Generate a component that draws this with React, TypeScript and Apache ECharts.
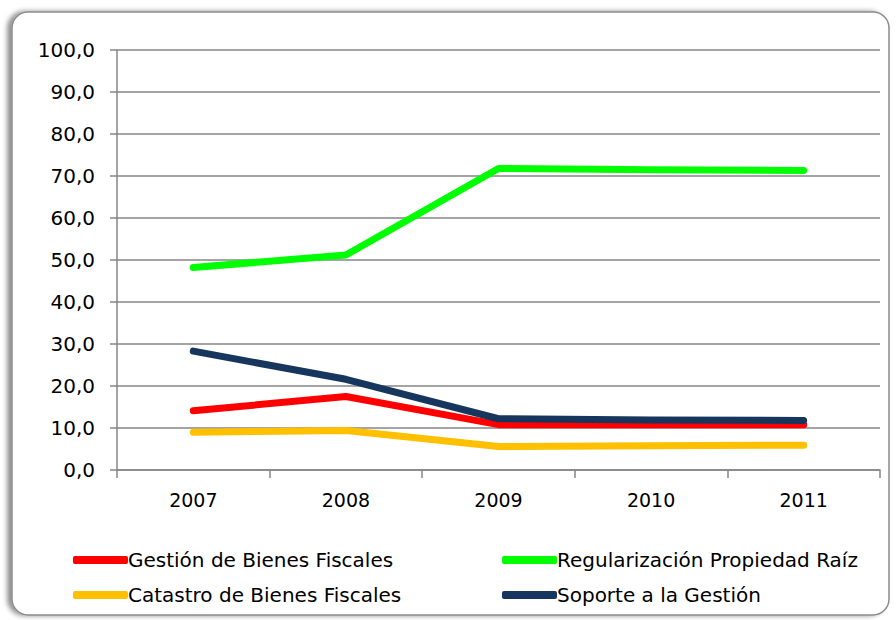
import React, { useEffect, useRef } from "react";
import * as echarts from "echarts";

const years = ["2007", "2008", "2009", "2010", "2011"];
const gestionBienes = [14.1, 17.5, 10.8, 10.8, 10.8];
const regularizacion = [48.2, 51.2, 71.8, 71.5, 71.3];
const catastro = [9.0, 9.4, 5.6, 5.8, 5.9];
const soporte = [28.3, 21.6, 12.2, 11.9, 11.8];

const seriesNames = [
  "Gestión de Bienes Fiscales",
  "Regularización Propiedad Raíz",
  "Catastro de Bienes Fiscales",
  "Soporte a la Gestión",
];
const seriesColors = ["#FF0000", "#00FF00", "#FFC000", "#17365D"];
const seriesData = [gestionBienes, regularizacion, catastro, soporte];

const FONT = "DejaVu Sans";

export default function App() {
  const ref = useRef<HTMLDivElement>(null);
  useEffect(() => {
    if (!ref.current) return;
    const chart = echarts.init(ref.current, undefined, { renderer: "svg" });
    const legendCommon = {
      orient: "vertical" as const,
      itemWidth: 55,
      itemHeight: 8,
      itemGap: 13,
      icon: "roundRect",
      textStyle: {
        fontFamily: FONT,
        fontSize: 20,
        color: "#000",
        lineHeight: 22,
        padding: [0, 0, 0, -5],
      },
    };
    chart.setOption({
      animation: false,
      backgroundColor: "#fff",
      graphic: [
        {
          type: "rect",
          z: -10,
          shape: { x: 12, y: 12, width: 877, height: 603, r: 16 },
          style: {
            fill: "#fff",
            stroke: "#8c8c8c",
            lineWidth: 1.5,
            shadowBlur: 5,
            shadowOffsetX: -4,
            shadowOffsetY: 0,
            shadowColor: "rgba(0,0,0,0.45)",
          },
        },
      ],
      grid: { left: 117, right: 16, top: 50, bottom: 150, containLabel: false },
      xAxis: {
        type: "category",
        data: years,
        boundaryGap: true,
        axisLine: { show: true, lineStyle: { color: "#868686", width: 1.5 } },
        axisTick: { show: true, length: 8, lineStyle: { color: "#868686", width: 1.5 } },
        axisLabel: { fontFamily: FONT, fontSize: 19, color: "#000", margin: 20 },
        splitLine: { show: false },
      },
      yAxis: {
        type: "value",
        min: 0,
        max: 100,
        interval: 10,
        axisLine: { show: true, lineStyle: { color: "#868686", width: 1.5 } },
        axisTick: { show: true, length: 7, lineStyle: { color: "#868686", width: 1.5 } },
        axisLabel: {
          fontFamily: FONT,
          fontSize: 20,
          color: "#000",
          margin: 22,
          formatter: (v: number) => v.toFixed(1).replace(".", ","),
        },
        splitLine: { show: true, lineStyle: { color: "#868686", width: 1.5 } },
      },
      legend: [
        { ...legendCommon, left: 68, top: 544, data: [seriesNames[0], seriesNames[2]] },
        { ...legendCommon, left: 497, top: 544, data: [seriesNames[1], seriesNames[3]] },
      ],
      series: seriesNames.map((name, i) => ({
        name,
        type: "line",
        data: seriesData[i],
        symbol: "none",
        color: seriesColors[i],
        lineStyle: { width: 7, color: seriesColors[i], cap: "round", join: "round" },
      })),
    });
    return () => chart.dispose();
  }, []);
  return (
    <div
      ref={ref}
      style={{ position: "absolute", left: 0, top: 0, width: 896, height: 620 }}
    />
  );
}
